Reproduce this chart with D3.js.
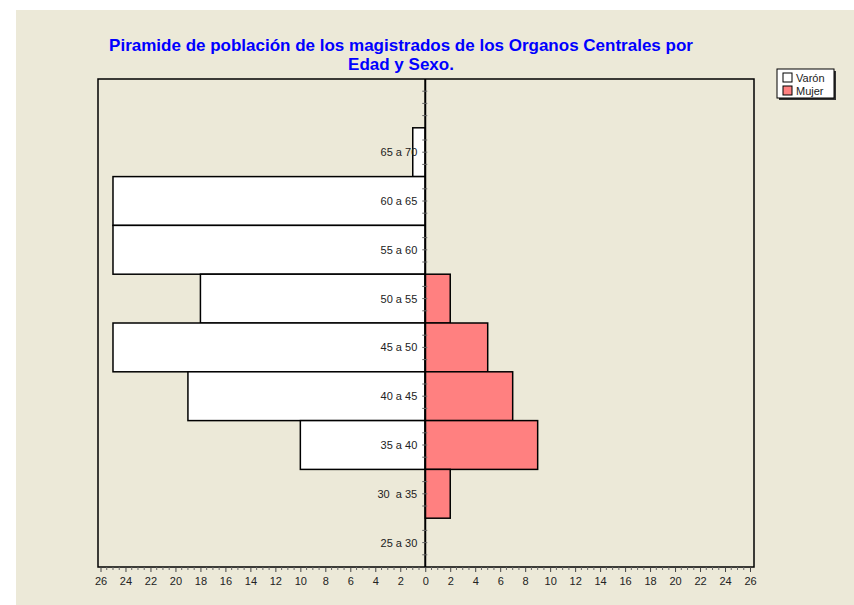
<!DOCTYPE html>
<html>
<head>
<meta charset="utf-8">
<script src="https://d3js.org/d3.v7.min.js"></script>
<style>
  body { margin: 0; background: #fff; }
  text { font-family: Arial, "Liberation Sans", sans-serif; }
</style>
</head>
<body>
<svg id="chart" width="854" height="605"></svg>
<script>
// age groups, top to bottom (first band is empty in the original)
var ageGroups = ["", "65 a 70", "60 a 65", "55 a 60", "50 a 55", "45 a 50", "40 a 45", "35 a 40", "30  a 35", "25 a 30"];
var varon = [0, 1, 25, 25, 18, 25, 19, 10, 0, 0];
var mujer = [0, 0, 0, 0, 2, 5, 7, 9, 2, 0];
var xTicks = [-26, -24, -22, -20, -18, -16, -14, -12, -10, -8, -6, -4, -2, 0, 2, 4, 6, 8, 10, 12, 14, 16, 18, 20, 22, 24, 26];
var seriesNames = ["Varón", "Mujer"];
var seriesColors = ["#ffffff", "#ff8080"];

var svg = d3.select("#chart");

// beige panel
svg.append("rect").attr("x", 16).attr("y", 10).attr("width", 838).attr("height", 595).attr("fill", "#ece9d8");

// title
var title = svg.append("text")
    .attr("text-anchor", "middle")
    .attr("fill", "#0000ff")
    .style("font-size", "17px")
    .style("font-weight", "bold");
title.append("tspan").attr("x", 401).attr("y", 51).text("Piramide de población de los magistrados de los Organos Centrales por");
title.append("tspan").attr("x", 401).attr("y", 70).text("Edad y Sexo.");

var pLeft = 98, pRight = 754, pTop = 79, pBottom = 567;

var x = d3.scaleLinear().domain([-26, 26]).range([100.5, 750]);
var y = d3.scaleBand().domain(d3.range(ageGroups.length)).range([pTop, pBottom]).padding(0);

// frame
svg.append("rect").attr("x", pLeft).attr("y", pTop).attr("width", pRight - pLeft).attr("height", pBottom - pTop)
    .attr("fill", "none").attr("stroke", "#000").attr("stroke-width", 1.5);

var g = svg.append("g");

// male bars
g.selectAll(".varon")
  .data(varon.map(function (v, i) { return { v: v, i: i }; }).filter(function (d) { return d.v > 0; }))
  .enter().append("rect")
    .attr("x", function (d) { return x(-d.v); })
    .attr("y", function (d) { return y(d.i); })
    .attr("width", function (d) { return x(0) - x(-d.v); })
    .attr("height", y.bandwidth())
    .attr("fill", seriesColors[0])
    .attr("stroke", "#000")
    .attr("stroke-width", 1.5);

// female bars
g.selectAll(".mujer")
  .data(mujer.map(function (v, i) { return { v: v, i: i }; }).filter(function (d) { return d.v > 0; }))
  .enter().append("rect")
    .attr("x", x(0))
    .attr("y", function (d) { return y(d.i); })
    .attr("width", function (d) { return x(d.v) - x(0); })
    .attr("height", y.bandwidth())
    .attr("fill", seriesColors[1])
    .attr("stroke", "#000")
    .attr("stroke-width", 1.5);

// zero line
svg.append("line").attr("x1", x(0)).attr("x2", x(0)).attr("y1", pTop).attr("y2", pBottom)
    .attr("stroke", "#000").attr("stroke-width", 2);

// y minor ticks on zero line
var yMinor = [];
for (var i = 0; i < ageGroups.length; i++) {
  for (var k = 1; k < 4; k++) yMinor.push(y(i) + y.bandwidth() * k / 4);
}
svg.selectAll(".ymin").data(yMinor).enter().append("line")
    .attr("x1", x(0) - 3).attr("x2", x(0) + 2)
    .attr("y1", function (d) { return d; }).attr("y2", function (d) { return d; })
    .attr("stroke", "#666").attr("stroke-width", 1);

// y labels
svg.selectAll(".ylab").data(ageGroups).enter().append("text")
    .attr("x", x(0) - 8)
    .attr("y", function (d, i) { return y(i) + y.bandwidth() / 2 + 4; })
    .attr("text-anchor", "end")
    .attr("fill", "#222")
    .style("font-size", "11px")
    .style("white-space", "pre")
    .text(function (d) { return d; });

// x axis
var xAxis = d3.axisBottom(x).tickValues(xTicks).tickSize(5).tickFormat(function (d) { return Math.abs(d); });
var ax = svg.append("g").attr("transform", "translate(0," + pBottom + ")").call(xAxis);
ax.select(".domain").remove();
ax.selectAll("line").attr("stroke", "#444");
ax.selectAll("text").style("font-size", "11px").attr("fill", "#222").attr("dy", "0.9em")
    .style("font-family", "Arial, 'Liberation Sans', sans-serif");

var xMinor = d3.range(-26, 26.01, 0.5).filter(function (d) { return d % 2 !== 0; });
svg.selectAll(".xmin").data(xMinor).enter().append("line")
    .attr("x1", function (d) { return x(d); }).attr("x2", function (d) { return x(d); })
    .attr("y1", pBottom).attr("y2", pBottom + 3)
    .attr("stroke", "#666");

// legend
var lg = svg.append("g").attr("transform", "translate(777,69)");
lg.append("rect").attr("x", 2).attr("y", 2).attr("width", 57).attr("height", 29).attr("fill", "#333");
lg.append("rect").attr("x", 0).attr("y", 0).attr("width", 57).attr("height", 29).attr("fill", "#fff").attr("stroke", "#000");
seriesNames.forEach(function (name, i) {
  lg.append("rect").attr("x", 6).attr("y", 4 + i * 13).attr("width", 9).attr("height", 9)
    .attr("fill", seriesColors[i]).attr("stroke", "#000");
  lg.append("text").attr("x", 19).attr("y", 12.5 + i * 13).style("font-size", "11px").attr("fill", "#222").text(name);
});
</script>
</body>
</html>
